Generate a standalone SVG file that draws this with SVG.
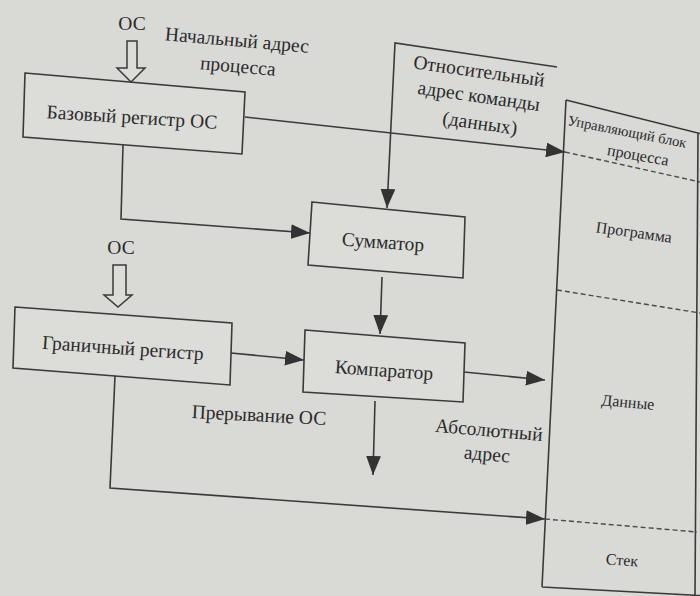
<svg xmlns="http://www.w3.org/2000/svg" width="700" height="596" viewBox="0 0 700 596" font-family="'Liberation Serif', 'Times New Roman', serif">
  <style>
    .bg { fill: #d9d9d6; }
    .box { fill: #dcdcd9; stroke: #3a3a3a; stroke-width: 1.6; stroke-linejoin: miter; }
    .wire { fill: none; stroke: #3a3a3a; stroke-width: 1.6; }
    .dash { fill: none; stroke: #4a4a4a; stroke-width: 1.4; stroke-dasharray: 5 3; }
    .hollow { fill: #dcdcd9; stroke: #3a3a3a; stroke-width: 1.5; stroke-linejoin: miter; }
    text { fill: #2b2b2b; text-anchor: middle; dominant-baseline: central; }
    .lg { font-size: 19.5px; }
    .sm { font-size: 16px; }
    .start { text-anchor: start; }
  </style>
  <defs>
    <marker id="ah" viewBox="0 0 18 14" refX="18" refY="7" markerWidth="19" markerHeight="15" markerUnits="userSpaceOnUse" orient="auto">
      <path d="M0,0 L18,7 L0,14 z" fill="#333"/>
    </marker>
  </defs>

  <rect class="bg" x="0" y="0" width="700" height="596"/>

  <!-- process control block -->
  <g id="pcb">
    <path class="wire" d="M566,100 L700,133.5 M698,133 L695,596 M542,587 L700,595.5 M566,100 L542,587"/>
    <path class="dash" d="M565,152 L700,182"/>
    <path class="dash" d="M557,290 L700,313"/>
    <path class="dash" d="M545,519 L697,532"/>
    <text class="sm start" x="568" y="120" transform="rotate(11 568 120)" style="font-size:14.5px">Управляющий блок</text>
    <text class="sm" x="638" y="155" transform="rotate(10 638 155)">процесса</text>
    <text class="sm" x="634" y="232" transform="rotate(8 634 232)">Программа</text>
    <text class="sm" x="628" y="402" transform="rotate(5 628 402)">Данные</text>
    <text class="sm" x="622" y="560" transform="rotate(4 622 560)">Стек</text>
  </g>

  <!-- base register -->
  <g id="base-reg">
    <polygon class="box" points="25,73 245,92 242,154 23,137"/>
    <text class="lg" x="132" y="117" transform="rotate(3.5 132 117)">Базовый регистр ОС</text>
  </g>

  <!-- OS input to base register -->
  <g id="os-top">
    <text class="lg" x="132" y="23">ОС</text>
    <polygon class="hollow" points="127,41 137,41 137,68 145,68 131,82 117,68 127,68"/>
  </g>

  <g id="start-addr">
    <text class="lg" x="237" y="40" transform="rotate(5 237 40)">Начальный адрес</text>
    <text class="lg" x="238" y="66" transform="rotate(5 238 66)">процесса</text>
  </g>

  <g id="rel-addr">
    <text class="lg" x="479" y="71" transform="rotate(8 479 71)">Относительный</text>
    <text class="lg" x="479" y="96" transform="rotate(8 479 96)">адрес команды</text>
    <text class="lg" x="480" y="123" transform="rotate(8 480 123)">(данных)</text>
  </g>

  <!-- adder -->
  <g id="adder">
    <polygon class="box" points="312,202 465,217 463,278 308,265"/>
    <text class="lg" x="383" y="242" transform="rotate(4 383 242)">Сумматор</text>
  </g>

  <!-- limit register -->
  <g id="limit-reg">
    <polygon class="box" points="15,307 232,323 230,385 13,368"/>
    <text class="lg" x="123" y="348" transform="rotate(4 123 348)">Граничный регистр</text>
  </g>

  <g id="os-mid">
    <text class="lg" x="121" y="247">ОС</text>
    <polygon class="hollow" points="113,265 126,265 126,295 132,295 118,307 104,295 113,295"/>
  </g>

  <!-- comparator -->
  <g id="comparator">
    <polygon class="box" points="305,330 465,343 463,402 303,392"/>
    <text class="lg" x="384" y="370" transform="rotate(4 384 370)">Компаратор</text>
  </g>

  <g id="interrupt">
    <text class="lg" x="259" y="415" transform="rotate(3 259 415)">Прерывание ОС</text>
  </g>

  <g id="abs-addr">
    <text class="lg" x="489" y="430" transform="rotate(5 489 430)">Абсолютный</text>
    <text class="lg" x="487" y="454" transform="rotate(5 487 454)">адрес</text>
  </g>

  <!-- connectors -->
  <g id="connectors">
    <path class="wire" d="M245,117 L565,152" marker-end="url(#ah)"/>
    <path class="wire" d="M123,145 L121,219 L310,233" marker-end="url(#ah)"/>
    <path class="wire" d="M557,67 L395,43 L387,208" marker-end="url(#ah)"/>
    <path class="wire" d="M382,277 L380,334" marker-end="url(#ah)"/>
    <path class="wire" d="M231,353 L304,360" marker-end="url(#ah)"/>
    <path class="wire" d="M464,372 L545,380" marker-end="url(#ah)"/>
    <path class="wire" d="M375,401 L373,475" marker-end="url(#ah)"/>
    <path class="wire" d="M115,376 L110,488 L545,519" marker-end="url(#ah)"/>
  </g>
</svg>
